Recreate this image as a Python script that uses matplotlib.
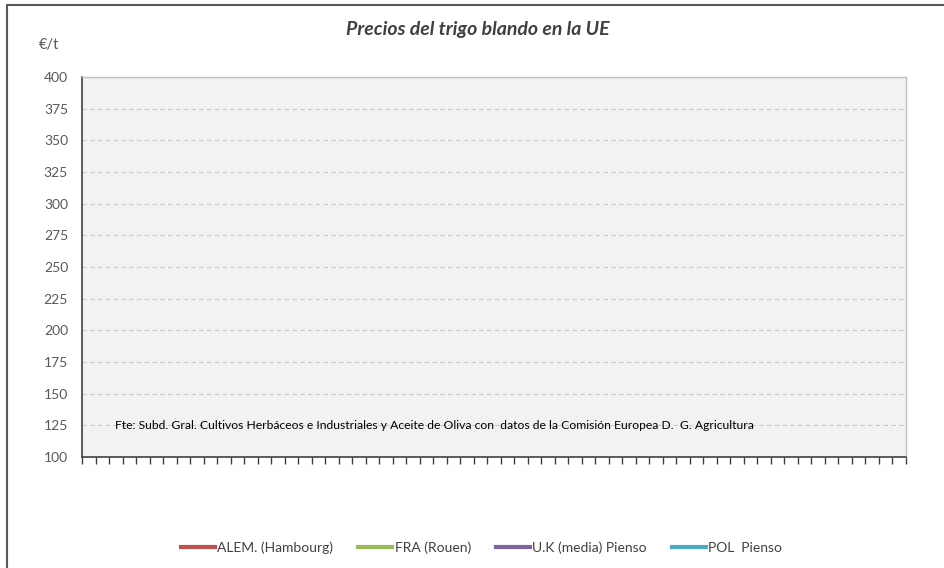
import matplotlib
matplotlib.use("Agg")
import matplotlib.pyplot as plt
from matplotlib.patches import Rectangle

# ---- data (the reference chart contains no plotted values) ----
n_categories = 61
y_ticks = [100, 125, 150, 175, 200, 225, 250, 275, 300, 325, 350, 375, 400]
series_names = ["ALEM. (Hambourg)", "FRA (Rouen)", "U.K (media) Pienso", "POL  Pienso"]
series_colors = ["#C0504D", "#9BBB59", "#8064A2", "#4BACC6"]
alem_values = []
fra_values = []
uk_values = []
pol_values = []
series_values = [alem_values, fra_values, uk_values, pol_values]

title = "Precios del trigo blando en la UE"
unit_label = "€/t"
source_text = ("Fte: Subd. Gral. Cultivos Herbáceos e Industriales y Aceite de Oliva con  "
               "datos de la Comisión Europea D.  G. Agricultura")

plt.rcParams['font.family'] = ['Lato', 'DejaVu Sans']

W, H = 944, 568
fig = plt.figure(figsize=(W / 100, H / 100), dpi=100)

# outer chart border
fig.patches.append(Rectangle((7 / W, -0.05), 1.2, (H - 5) / H + 0.05, transform=fig.transFigure,
                             fill=False, edgecolor="#595959", linewidth=1.5, zorder=0))

left, right, top, bottom = 82, 906, 77, 457
ax = fig.add_axes([left / W, (H - bottom) / H, (right - left) / W, (bottom - top) / H])
ax.set_facecolor("#F2F2F2")

lines = []
for name, color, vals in zip(series_names, series_colors, series_values):
    ln, = ax.plot(range(len(vals)), vals, color=color, linewidth=3, label=name)
    lines.append(ln)

ax.set_xlim(0, n_categories)
ax.set_ylim(min(y_ticks), max(y_ticks))
ax.set_yticks(y_ticks)
ax.set_xticks(range(0, n_categories + 1))
ax.set_xticklabels([])
ax.yaxis.grid(True, linestyle=(0, (4, 3)), color="#C8C8C8", linewidth=0.8)
ax.set_axisbelow(True)

for s in ["top", "right"]:
    ax.spines[s].set_color("#BFBFBF")
    ax.spines[s].set_linewidth(1)
ax.spines["left"].set_color("#404040")
ax.spines["left"].set_linewidth(1.2)
ax.spines["bottom"].set_color("#404040")
ax.spines["bottom"].set_linewidth(1.2)

ax.tick_params(axis="x", direction="out", length=5, width=1, color="#404040")
ax.tick_params(axis="y", length=0, pad=10, labelsize=10, labelcolor="#595959")

ax.text(33 / (right - left), 125, source_text, transform=ax.get_yaxis_transform(), fontsize=8.7,
        color="#000000", va="center", ha="left")

fig.text(478 / W, 1 - 30 / H, title, fontsize=14, fontweight="bold", fontstyle="italic",
         color="#404040", ha="center", va="center")
fig.text(49 / W, 1 - 45 / H, unit_label, fontsize=10.5, color="#595959", ha="center", va="center")

fig.legend(handles=lines, labels=series_names, loc="center", bbox_to_anchor=(481.5 / W, 1 - 548 / H),
           ncol=4, frameon=False, fontsize=10, labelcolor="#404040", handlelength=2.45,
           handletextpad=0.15, columnspacing=1.8)

fig.savefig("out.png", dpi=100)
